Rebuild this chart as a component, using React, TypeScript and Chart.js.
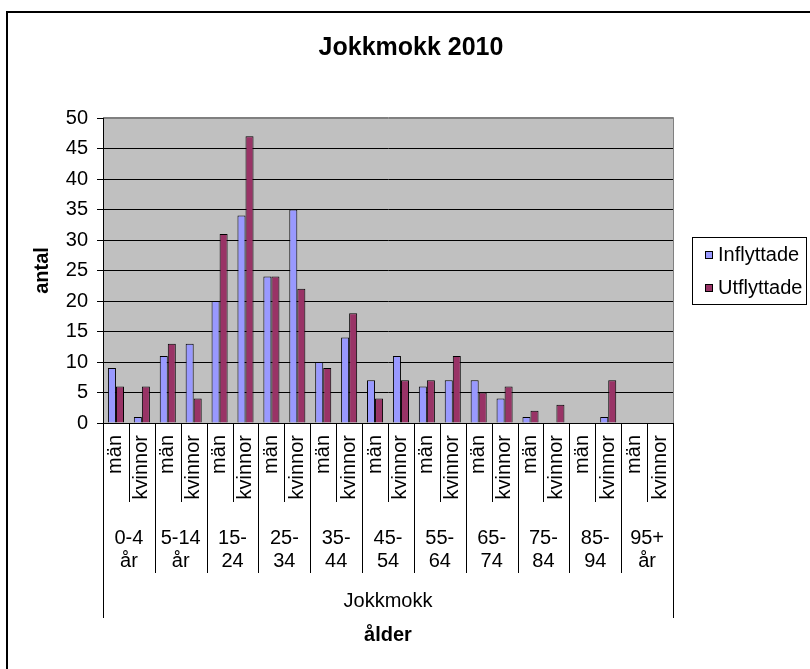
import React, { useEffect, useRef } from 'react';
import { Chart, registerables } from 'chart.js';

Chart.register(...registerables);

const titleText = 'Jokkmokk 2010';
const yAxisTitle = 'antal';
const xAxisTitle = 'ålder';
const regionLabel = 'Jokkmokk';
const seriesNames = ['Inflyttade', 'Utflyttade'];
const seriesColors = ['#9999FF', '#993366'];
const sexLabels = ['män', 'kvinnor'];
const ageGroups: string[][] = [
  ['0-4', 'år'],
  ['5-14', 'år'],
  ['15-', '24'],
  ['25-', '34'],
  ['35-', '44'],
  ['45-', '54'],
  ['55-', '64'],
  ['65-', '74'],
  ['75-', '84'],
  ['85-', '94'],
  ['95+', 'år'],
];
const inflyttade = [9, 1, 11, 13, 20, 34, 24, 35, 10, 14, 7, 11, 6, 7, 7, 4, 1, 0, 0, 1, 0, 0];
const utflyttade = [6, 6, 13, 4, 31, 47, 24, 22, 9, 18, 4, 7, 7, 11, 5, 6, 2, 3, 0, 7, 0, 0];
const yMin = 0;
const yMax = 50;
const yStep = 5;

const FONT = '"Liberation Sans", Arial, Helvetica, sans-serif';

const categories: string[] = [];
ageGroups.forEach((g) => sexLabels.forEach((s) => categories.push(g.join(' ') + ' ' + s)));

const decorPlugin = {
  id: 'decor',
  beforeDraw(chart: any) {
    const { ctx, chartArea: a } = chart;
    ctx.save();
    ctx.fillStyle = '#ffffff';
    ctx.fillRect(0, 0, chart.width, chart.height);
    ctx.fillStyle = '#C0C0C0';
    ctx.fillRect(a.left, a.top, a.right - a.left, a.bottom - a.top);
    ctx.restore();
  },
  afterDraw(chart: any) {
    const { ctx, chartArea: a } = chart;
    const xs = chart.scales.x;
    const n = categories.length;
    const px = (i: number) => xs.getPixelForValue(i);
    const boundary = (i: number) => {
      if (i <= 0) return a.left;
      if (i >= n) return a.right;
      return (px(i - 1) + px(i)) / 2;
    };
    const al = (v: number) => Math.round(v) + 0.5;
    ctx.save();

    // outer chart border
    ctx.strokeStyle = '#000';
    ctx.lineWidth = 2;
    ctx.strokeRect(7, 12, 1200, 1200);

    // plot border top/right
    ctx.strokeStyle = '#808080';
    ctx.lineWidth = 1;
    ctx.beginPath();
    ctx.moveTo(a.left, al(a.top) - 1);
    ctx.lineTo(al(a.right), al(a.top) - 1);
    ctx.lineTo(al(a.right), a.bottom);
    ctx.stroke();

    // title
    ctx.fillStyle = '#000';
    ctx.font = `bold 25px ${FONT}`;
    ctx.textAlign = 'center';
    ctx.textBaseline = 'middle';
    ctx.fillText(titleText, 411, 48);

    // x-axis multi-level lines
    ctx.strokeStyle = '#000';
    ctx.lineWidth = 1;
    const y0 = a.bottom;
    for (let i = 0; i <= n; i++) {
      const x = al(boundary(i));
      let y1;
      if (i === 0 || i === n) y1 = 618;
      else if (i % 2 === 0) y1 = 573;
      else y1 = 502;
      ctx.beginPath();
      ctx.moveTo(x, y0);
      ctx.lineTo(x, y1);
      ctx.stroke();
    }

    // rotated sex labels
    ctx.font = `20px ${FONT}`;
    for (let i = 0; i < n; i++) {
      ctx.save();
      ctx.translate(px(i), 435);
      ctx.rotate(-Math.PI / 2);
      ctx.textAlign = 'right';
      ctx.textBaseline = 'middle';
      ctx.fillText(sexLabels[i % 2], 0, 0);
      ctx.restore();
    }

    // age group labels
    ctx.textAlign = 'center';
    ctx.textBaseline = 'middle';
    ageGroups.forEach((g, gi) => {
      const cx = (boundary(gi * 2) + boundary(gi * 2 + 2)) / 2;
      ctx.fillText(g[0], cx, 538);
      ctx.fillText(g[1], cx, 561);
    });

    // region label
    const mid = (a.left + a.right) / 2;
    ctx.fillText(regionLabel, mid, 601);

    // x axis title
    ctx.font = `bold 20px ${FONT}`;
    ctx.fillText(xAxisTitle, mid, 635);

    // legend
    ctx.strokeStyle = '#000';
    ctx.lineWidth = 1;
    ctx.fillStyle = '#fff';
    ctx.fillRect(692, 237, 114, 67);
    ctx.strokeRect(692.5, 237.5, 114, 67);
    ctx.font = `20px ${FONT}`;
    ctx.textAlign = 'left';
    ctx.textBaseline = 'middle';
    const rows = [255, 288];
    seriesNames.forEach((name, k) => {
      const cy = rows[k];
      ctx.fillStyle = seriesColors[k];
      ctx.fillRect(705, cy - 4, 7, 7);
      ctx.strokeStyle = '#000';
      ctx.strokeRect(705.5, cy - 3.5, 7, 7);
      ctx.fillStyle = '#000';
      ctx.fillText(name, 718, cy);
    });

    ctx.restore();
  },
};

export default function App() {
  const ref = useRef<HTMLCanvasElement | null>(null);
  useEffect(() => {
    if (!ref.current) return;
    const chart = new Chart(ref.current, {
      type: 'bar',
      data: {
        labels: categories,
        datasets: [
          {
            label: seriesNames[0],
            data: inflyttade,
            backgroundColor: seriesColors[0],
            borderColor: '#000',
            borderWidth: (c: any) => (c.raw === 0 ? 0 : 1),
            categoryPercentage: 0.62,
            barPercentage: 1,
          },
          {
            label: seriesNames[1],
            data: utflyttade,
            backgroundColor: seriesColors[1],
            borderColor: '#000',
            borderWidth: (c: any) => (c.raw === 0 ? 0 : 1),
            categoryPercentage: 0.62,
            barPercentage: 1,
          },
        ],
      },
      options: {
        responsive: false,
        animation: false,
        devicePixelRatio: 1,
        layout: { padding: { top: 118, left: 8, right: 137, bottom: 0 } },
        font: { family: FONT },
        plugins: {
          legend: { display: false },
          title: { display: false },
          tooltip: { enabled: false },
        },
        scales: {
          x: {
            type: 'category',
            ticks: { display: false },
            grid: { display: false },
            border: { display: true, color: '#000', width: 1 },
            afterFit: (s: any) => {
              s.height = 246;
            },
          },
          y: {
            min: yMin,
            max: yMax,
            ticks: {
              stepSize: yStep,
              color: '#000',
              padding: 9,
              font: { family: FONT, size: 20 },
            },
            grid: {
              color: (c: any) => (c.tick && c.tick.value === yMax ? '#808080' : '#000'),
              tickColor: '#000',
              tickLength: 6,
              lineWidth: 1,
            },
            border: { display: true, color: '#000', width: 1 },
            title: {
              display: true,
              text: yAxisTitle,
              color: '#000',
              font: { family: FONT, size: 20, weight: 'bold' },
              padding: { top: 22, bottom: 0 },
            },
            afterFit: (s: any) => {
              s.width = 95;
            },
          },
        },
      } as any,
      plugins: [decorPlugin],
    });
    return () => chart.destroy();
  }, []);
  return (
    <div style={{ position: 'absolute', left: 0, top: 0, width: 810, height: 669, overflow: 'hidden' }}>
      <canvas ref={ref} width={810} height={669} style={{ display: 'block' }} />
    </div>
  );
}
